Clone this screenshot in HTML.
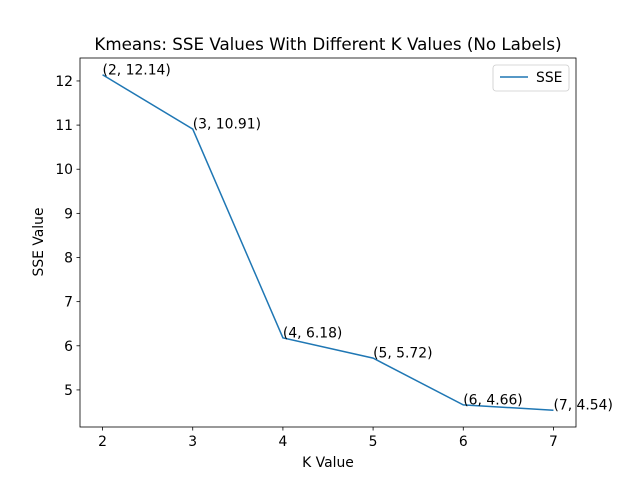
<!DOCTYPE html>
<html><head><meta charset="utf-8"><style>
body{margin:0;background:#fff;}
svg{font-family:"DejaVu Sans","Liberation Sans",sans-serif;}
</style></head><body>
<svg id="chart" width="640" height="480" viewBox="0 0 640 480">
<rect width="640" height="480" fill="#fff"/>
<text x="328" y="50" text-anchor="middle" font-size="16.7">Kmeans: SSE Values With Different K Values (No Labels)</text>
<g id="ticks"></g>
<polyline id="line" fill="none" stroke="#1f77b4" stroke-width="1.5"/>
<g id="labels"></g>
<rect x="80" y="58" width="496" height="369" fill="none" stroke="#000" stroke-width="0.8"/>
<text x="328" y="467" text-anchor="middle" font-size="13.9">K Value</text>
<text transform="translate(43,242) rotate(-90)" text-anchor="middle" font-size="13.9">SSE Value</text>
<g>
<rect x="493" y="65" width="76" height="26" rx="3" fill="#fff" stroke="#ccc" stroke-width="0.8"/>
<line x1="500" y1="77" x2="528" y2="77" stroke="#1f77b4" stroke-width="1.5"/>
<text x="536" y="82" font-size="13.9">SSE</text>
</g>
</svg>
<script>
const kValues=[2,3,4,5,6,7];
const sseValues=[12.14,10.91,6.18,5.72,4.66,4.54];
const yTicks=[5,6,7,8,9,10,11,12];
const xTicks=[2,3,4,5,6,7];
const NS="http://www.w3.org/2000/svg";
const x=v=>80+(v-1.75)/5.5*496;
const y=v=>427-(v-4.16)/(12.52-4.16)*369;
const tg=document.getElementById('ticks');
function mk(tag,attrs,parent){const e=document.createElementNS(NS,tag);for(const k in attrs)e.setAttribute(k,attrs[k]);parent.appendChild(e);return e;}
xTicks.forEach(t=>{
 const l=mk('line',{x1:x(t),x2:x(t),y1:427,y2:430.5,stroke:'#000','stroke-width':0.8},tg);
 
 
 const s=mk('text',{x:x(t),y:446,'text-anchor':'middle','font-size':13.9},tg);
 
 
 s.textContent=t;
});
yTicks.forEach(t=>{
 const l=mk('line',{x1:76.5,x2:80,y1:y(t),y2:y(t),stroke:'#000','stroke-width':0.8},tg);
 
 
 const s=mk('text',{x:73,y:y(t)+5,'text-anchor':'end','font-size':13.9},tg);
 
 
 s.textContent=t;
});
document.getElementById('line').setAttribute('points',kValues.map((k,i)=>x(k)+','+y(sseValues[i])).join(' '));
const lg=document.getElementById('labels');
kValues.forEach((k,i)=>{
 const s=mk('text',{x:x(k),y:y(sseValues[i])-0.5,'font-size':13.9},lg);
 
 
 s.textContent='('+k+', '+sseValues[i].toFixed(2)+')';
});
</script>
</body></html>
